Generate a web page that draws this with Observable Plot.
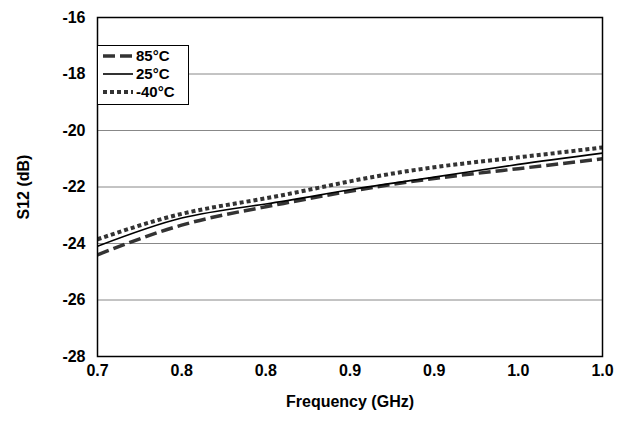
<!DOCTYPE html>
<html><head>
<script src="https://cdn.jsdelivr.net/npm/d3@7"></script>
<script src="https://cdn.jsdelivr.net/npm/@observablehq/plot@0.6"></script>
<style>
body{margin:0;background:#fff;font-family:"Liberation Sans Narrow","Liberation Sans",sans-serif;font-weight:bold}
#wrap{position:relative;width:619px;height:421px}
#legend{position:absolute;left:97px;top:45px;width:92px;height:60px;border:1.5px solid #000;background:#fff;box-sizing:border-box;font-size:15px}
#legend div{display:flex;align-items:center;height:17px;margin-top:1px}
#legend svg{margin:0 3px 0 5px}
</style>
</head><body>
<div id="wrap"><div id="chart"></div><div id="legend"></div></div>
<script>
const freq = [0.70, 0.75, 0.80, 0.85, 0.90, 0.95, 1.00]
const s85 = [-24.4, -23.35, -22.7, -22.15, -21.7, -21.35, -21.0]
const s25 = [-24.1, -23.1, -22.6, -22.1, -21.65, -21.2, -20.8]
const sM40 = [-23.85, -22.95, -22.4, -21.8, -21.3, -20.95, -20.6]
const xTicks = [0.70, 0.75, 0.80, 0.85, 0.90, 0.95, 1.00]
const xLabels = ["0.7", "0.8", "0.8", "0.9", "0.9", "1.0", "1.0"]
const yTicks = [-28, -26, -24, -22, -20, -18, -16]

const series = [
  {name: "85°C", vals: s85, color: "#333", width: 3.5, dash: "12,5"},
  {name: "25°C", vals: s25, color: "#000", width: 1.6, dash: null},
  {name: "-40°C", vals: sM40, color: "#333", width: 4, dash: "4,3"}
]

const lines = series.map(s => Plot.line(freq.map((f, i) => ({f, v: s.vals[i]})), {
  x: "f", y: "v", stroke: s.color, strokeWidth: s.width, strokeDasharray: s.dash,
  strokeLinecap: "butt", curve: "natural"
}))

const chart = Plot.plot({
  width: 619, height: 421,
  marginLeft: 97, marginRight: 17, marginTop: 17, marginBottom: 65,
  style: {fontFamily: "'Liberation Sans Narrow','Liberation Sans',sans-serif", fontWeight: "bold", fontSize: "16px", color: "#000"},
  x: {domain: [0.7, 1.0], ticks: xTicks, tickFormat: (d, i) => xLabels[i], tickSize: 0, tickPadding: 8, label: "Frequency (GHz)", labelArrow: "none", labelAnchor: "center", labelOffset: 50},
  y: {domain: [-28, -16], ticks: yTicks, tickFormat: d => String(d), tickSize: 0, tickPadding: 12, label: "S12 (dB)", labelArrow: "none", labelAnchor: "center", labelOffset: 80},
  marks: [
    Plot.gridY(yTicks, {stroke: "#888", strokeOpacity: 1, strokeWidth: 1}),
    ...lines,
    Plot.frame({stroke: "#000", strokeWidth: 1.5})
  ]
})
d3.select("#chart").append(() => chart)

const lg = d3.select("#legend")
series.forEach(s => {
  const row = lg.append("div")
  const sv = row.append("svg").attr("width", 30).attr("height", 10)
  sv.append("line").attr("x1", 0).attr("x2", 30).attr("y1", 5).attr("y2", 5)
    .attr("stroke", s.color).attr("stroke-width", s.width).attr("stroke-dasharray", s.dash)
  row.append("span").text(s.name)
})
</script>
</body></html>
